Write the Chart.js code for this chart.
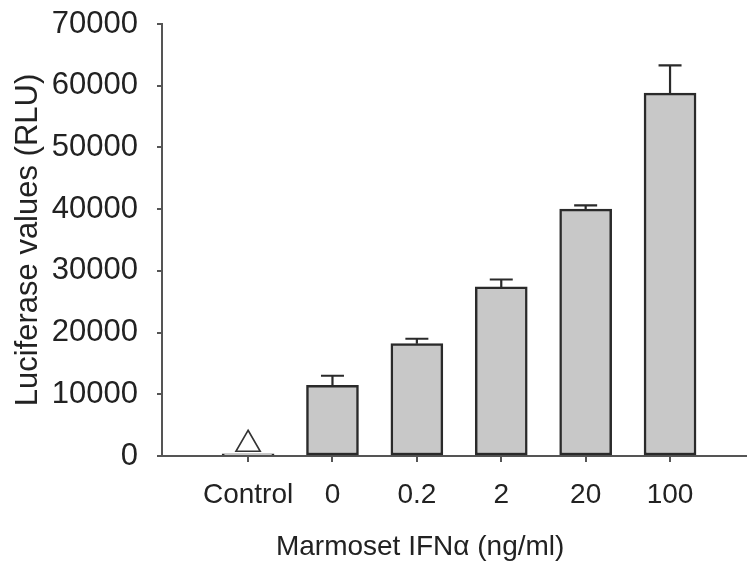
<!DOCTYPE html>
<html>
<head>
<meta charset="utf-8">
<script src="https://cdn.jsdelivr.net/npm/chart.js@4/dist/chart.umd.min.js"></script>
<style>
  html, body { margin: 0; padding: 0; background: #fff; overflow: hidden; }
  #wrap { width: 747px; height: 566px; }
</style>
</head>
<body>
<div id="wrap"><canvas id="myChart"></canvas></div>
<script>
// datos
const categories = ['Control', '0', '0.2', '2', '20', '100'];
const luciferase = [350, 11450, 18200, 27400, 40000, 58800];
const errores = [0, 1550, 800, 1200, 600, 4500];
const marcaControl = [1900];   // triangulo sobre el control
const yTicks = [0, 10000, 20000, 30000, 40000, 50000, 60000, 70000];

const AXIS = '#555555';
const TEXT = '#222222';
const FONT = '"Liberation Sans", Arial, sans-serif';

// barras de error (solo hacia arriba)
const errorBars = {
    id: 'errorBars',
    afterDatasetsDraw(chart) {
        const meta = chart.getDatasetMeta(0);
        const y = chart.scales.y;
        const ctx = chart.ctx;
        ctx.save();
        ctx.strokeStyle = '#2a2a2a';
        ctx.lineWidth = 2.2;
        meta.data.forEach((bar, i) => {
            if (!errores[i]) return;
            const top = y.getPixelForValue(luciferase[i] + errores[i]);
            ctx.beginPath();
            ctx.moveTo(bar.x, bar.y);
            ctx.lineTo(bar.x, top);
            ctx.moveTo(bar.x - 11.5, top);
            ctx.lineTo(bar.x + 11.5, top);
            ctx.stroke();
        });
        ctx.restore();
    }
};

// titulo del eje x (desplazado a la izquierda como en la figura)
const xTitle = {
    id: 'xTitle',
    afterDraw(chart) {
        const a = chart.chartArea;
        const ctx = chart.ctx;
        ctx.save();
        ctx.font = '28px ' + FONT;
        ctx.fillStyle = TEXT;
        ctx.textAlign = 'center';
        ctx.textBaseline = 'middle';
        ctx.fillText('Marmoset IFNα (ng/ml)', a.left + (a.right - a.left) * 0.442, 547);
        ctx.restore();
    }
};

const ctx = document.getElementById('myChart');

new Chart(ctx, {
    data: {
        datasets: [{
            type: 'bar',
            label: 'Luciferase',
            data: luciferase.map((v, i) => ({ x: i, y: v })),
            backgroundColor: '#c8c8c8',
            borderColor: '#2a2a2a',
            borderWidth: 2.5,
            barThickness: 52,
            borderSkipped: false,
        }, {
            type: 'scatter',
            label: 'Control',
            data: marcaControl.map(v => ({ x: 0, y: v })),
            pointStyle: 'triangle',
            radius: 14,
            backgroundColor: '#ffffff',
            borderColor: '#333333',
            borderWidth: 1.6,
        }]
    },
    options: {
        responsive: true,
        maintainAspectRatio: false,
        animation: false,
        layout: { autoPadding: false, padding: { top: 24, right: 1, left: 0, bottom: 0 } },
        plugins: {
            legend: { display: false },
            tooltip: { enabled: false },
        },
        scales: {
            x: {
                type: 'linear',
                offset: false,
                min: -1.02,
                max: 5.9,
                afterBuildTicks: (s) => { s.ticks = categories.map((c, i) => ({ value: i })); },
                afterFit: (s) => { s.height = 110; s.paddingLeft = 0; s.paddingRight = 0; },
                ticks: {
                    callback: (v) => categories[v],
                    color: TEXT,
                    font: { family: FONT, size: 28 },
                    padding: 16,
                    maxRotation: 0,
                    autoSkip: false,
                },
                grid: { offset: false, drawOnChartArea: false, tickLength: 6, color: AXIS, lineWidth: 2 },
                border: { color: AXIS, width: 2 },
            },
            y: {
                min: 0,
                max: 70000,
                afterBuildTicks: (s) => { s.ticks = yTicks.map(v => ({ value: v })); },
                afterFit: (s) => { s.width = 162; s.paddingTop = 0; s.paddingBottom = 0; },
                ticks: {
                    callback: (v) => String(v),
                    color: TEXT,
                    font: { family: FONT, size: 31 },
                    padding: 19,
                },
                grid: { drawOnChartArea: false, tickLength: 5, color: AXIS, lineWidth: 2 },
                border: { color: AXIS, width: 2 },
                title: {
                    display: true,
                    text: 'Luciferase values (RLU)',
                    color: TEXT,
                    font: { family: FONT, size: 31 },
                    padding: { top: 10, bottom: 0 },
                },
            }
        },
    },
    plugins: [errorBars, xTitle],
});
</script>
</body>
</html>
